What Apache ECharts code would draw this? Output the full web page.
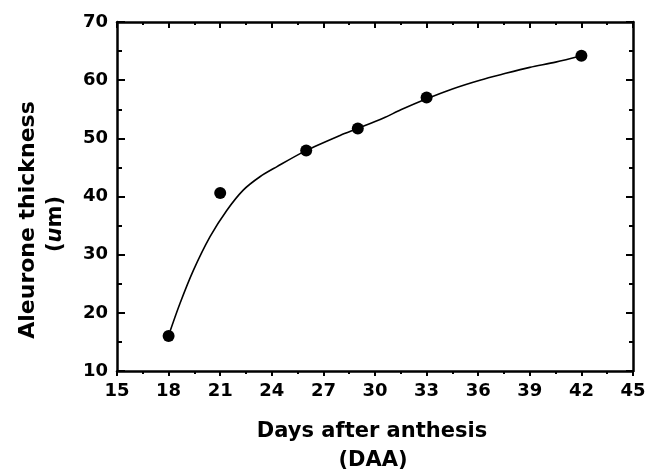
<!DOCTYPE html>
<html>
<head>
<meta charset="utf-8">
<script src="https://cdn.jsdelivr.net/npm/echarts@6/dist/echarts.min.js"></script>
<style>html,body{margin:0;padding:0;background:#fff}#c{width:659px;height:473px}</style>
</head>
<body>
<div id="c"></div>
<script>
// Measured points (days after anthesis, aleurone thickness in um)
var daysMeasured = [18, 21, 26, 29, 33, 42];
var thicknessMeasured = [16.0, 40.6, 47.9, 51.7, 57.0, 64.2];
// Fitted curve
var curveDays = [18, 18.66, 19.44, 20.41, 21.38, 22.34, 23.31, 24.28, 25.93, 27.97, 29, 30.5, 31.5, 33, 34.5, 36.1, 37.5, 39, 40.5, 42];
var curveThickness = [16.1, 21.6, 27.3, 33.1, 37.6, 41.1, 43.4, 45.1, 47.8, 50.5, 51.7, 53.5, 54.9, 56.8, 58.5, 60.0, 61.1, 62.2, 63.1, 64.2];
var xTicks = [15, 18, 21, 24, 27, 30, 33, 36, 39, 42, 45];
var yTicks = [10, 20, 30, 40, 50, 60, 70];
var xTitle = 'Days after anthesis';
var xTitle2 = '(DAA)';
var yTitle = 'Aleurone thickness';

var chart = echarts.init(document.getElementById('c'), null, {renderer: 'canvas'});
var FONT = '"DejaVu Sans", "Liberation Sans", Arial, sans-serif';
var axisLine = {show: true, lineStyle: {color: '#000', width: 2.5}};
function zip(a, b) { return a.map(function (v, i) { return [v, b[i]]; }); }

var option = {
  backgroundColor: '#fff',
  animation: false,
  grid: {left: 117, right: 26, top: 22, bottom: 102, containLabel: false},
  xAxis: [{
    type: 'value', position: 'bottom',
    min: xTicks[0], max: xTicks[xTicks.length - 1], interval: 3,
    axisLine: axisLine,
    axisTick: {show: true, inside: false, length: 5, lineStyle: {color: '#000', width: 2}},
    minorTick: {show: true, splitNumber: 2, length: 3, lineStyle: {color: '#000', width: 2}},
    splitLine: {show: false},
    axisLabel: {color: '#000', fontFamily: FONT, fontWeight: 'bold', fontSize: 18, margin: 11}
  }, {
    type: 'value', position: 'top',
    min: xTicks[0], max: xTicks[xTicks.length - 1], interval: 3,
    axisLine: axisLine,
    axisTick: {show: true, inside: true, length: 6, lineStyle: {color: '#000', width: 2}},
    minorTick: {show: true, splitNumber: 2, length: 3, lineStyle: {color: '#000', width: 2}},
    splitLine: {show: false},
    axisLabel: {show: false}
  }],
  yAxis: [{
    type: 'value', position: 'left',
    min: yTicks[0], max: yTicks[yTicks.length - 1], interval: 10,
    axisLine: axisLine,
    axisTick: {show: true, inside: true, length: 8, lineStyle: {color: '#000', width: 2}},
    minorTick: {show: true, splitNumber: 2, length: 5, lineStyle: {color: '#000', width: 2}},
    splitLine: {show: false},
    axisLabel: {color: '#000', fontFamily: FONT, fontWeight: 'bold', fontSize: 18, margin: 9}
  }, {
    type: 'value', position: 'right',
    min: yTicks[0], max: yTicks[yTicks.length - 1], interval: 10,
    axisLine: axisLine,
    axisTick: {show: true, inside: true, length: 7, lineStyle: {color: '#000', width: 2}},
    minorTick: {show: true, splitNumber: 2, length: 4, lineStyle: {color: '#000', width: 2}},
    splitLine: {show: false},
    axisLabel: {show: false}
  }],
  series: [{
    type: 'line', xAxisIndex: 0, yAxisIndex: 0,
    data: zip(curveDays, curveThickness),
    smooth: 0.3,
    showSymbol: false, symbol: 'none',
    lineStyle: {color: '#000', width: 1.6},
    z: 2
  }, {
    type: 'scatter', xAxisIndex: 0, yAxisIndex: 0,
    data: zip(daysMeasured, thicknessMeasured),
    symbol: 'circle', symbolSize: 12,
    itemStyle: {color: '#000', opacity: 1},
    z: 3
  }],
  graphic: [{
    type: 'text', x: 372, y: 432,
    style: {text: xTitle, fill: '#000', font: 'bold 21px ' + FONT, align: 'center', verticalAlign: 'middle'}
  }, {
    type: 'text', x: 373, y: 461,
    style: {text: xTitle2, fill: '#000', font: 'bold 21px ' + FONT, align: 'center', verticalAlign: 'middle'}
  }, {
    type: 'text', x: 28, y: 220, rotation: Math.PI / 2,
    style: {text: yTitle, fill: '#000', font: 'bold 22px ' + FONT, align: 'center', verticalAlign: 'middle'}
  }, {
    type: 'text', x: 56, y: 224, rotation: Math.PI / 2,
    style: {
      text: '({i|u}m)', fill: '#000', font: 'bold 21px ' + FONT, align: 'center', verticalAlign: 'middle',
      rich: {i: {fontStyle: 'italic', fontWeight: 'bold', fontSize: 21, fontFamily: FONT, fill: '#000'}}
    }
  }]
};
chart.setOption(option);
</script>
</body>
</html>
